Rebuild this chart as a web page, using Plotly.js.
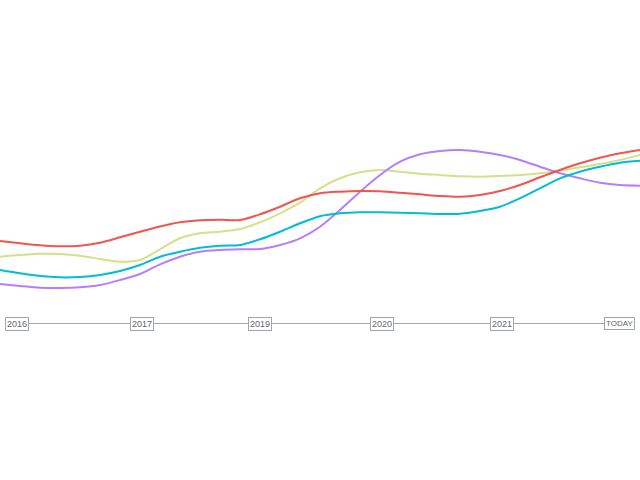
<!DOCTYPE html>
<html>
<head>
<meta charset="utf-8">
<script src="https://cdn.plot.ly/plotly-3.0.1.min.js"></script>
<style>html,body{margin:0;padding:0;background:#fff;}#chart{width:640px;height:480px;}</style>
</head>
<body>
<div id="chart"></div>
<script>
// timeline positions (index units) and labels
const timelineLabels = ["2016", "2017", "2019", "2020", "2021", "TODAY"];
const timelinePos = [0, 1.04, 2.02, 3.03, 4.03, 5];

// sample positions along the timeline
const xs = [-0.137, 0.029, 0.195, 0.361, 0.527, 0.693, 0.859, 1.025, 1.191, 1.357, 1.523,
            1.689, 1.855, 2.021, 2.187, 2.353, 2.519, 2.685, 2.851, 3.017, 3.183, 3.349,
            3.515, 3.681, 3.846, 4.012, 4.178, 4.344, 4.510, 4.676, 4.842, 5.008, 5.174];

// series values (height above timeline)
const redSeries    = [82.5, 80.2, 78.2, 77.2, 77.8, 80.8, 86.2, 91.8, 97, 101.2, 103.2,
                      103.8, 103.5, 109.2, 116.8, 125.2, 130.2, 131.8, 132.5, 132.2, 130.8, 129.2,
                      127.5, 126.8, 128.5, 132.5, 138.5, 146.2, 153.5, 160.2, 165.8, 170.2, 173.5];
const limeSeries   = [66.8, 68.5, 69.8, 69.5, 67.8, 64.5, 61.8, 63.5, 74.2, 85.2, 90.2,
                      91.8, 94.5, 101.2, 110.2, 120.8, 135.2, 145.2, 151.2, 153.5, 151.8, 149.8,
                      148.5, 147.2, 146.8, 147.5, 148.5, 150.2, 152.8, 156.2, 159.5, 163.5, 168.5];
const cyanSeries   = [53.5, 50.2, 47.5, 46.2, 46.5, 48.5, 52.5, 58.5, 66.8, 71.8, 75.8,
                      77.8, 78.5, 84.2, 91.8, 100.2, 107.3, 110.2, 111.2, 111.2, 110.8, 110.2,
                      109.5, 109.8, 112.5, 116.8, 125.2, 135.2, 145.2, 151.8, 156.8, 160.8, 162.8];
const purpleSeries = [39.5, 37.5, 35.8, 35.5, 36.2, 38.5, 43.5, 49.5, 59.2, 66.8, 71.8,
                      73.5, 74.2, 74.5, 78.5, 85.2, 96.8, 113.5, 131.8, 148.5, 161.8, 169.2,
                      172.5, 173.5, 171.8, 168.5, 163.5, 156.8, 150.2, 145.2, 140.8, 138.5, 137.8];

const colors = ["#F0564E", "#D4E08A", "#00BCD4", "#B47EFF"];
const seriesList = [limeSeries, purpleSeries, cyanSeries, redSeries];
const seriesColors = [colors[1], colors[3], colors[2], colors[0]];

const traces = seriesList.map((ys, i) => ({
  x: xs, y: ys, type: "scatter", mode: "lines",
  line: {shape: "spline", smoothing: 0.8, color: seriesColors[i], width: 2},
  hoverinfo: "none"
}));

// timeline baseline
traces.unshift({
  x: [timelinePos[0], timelinePos[timelinePos.length - 1]], y: [0, 0],
  type: "scatter", mode: "lines", line: {color: "#A3A8B3", width: 1.2}, hoverinfo: "none"
});

const annotations = timelineLabels.map((t, i) => ({
  x: timelinePos[i], y: 0, xref: "x", yref: "y", text: t, showarrow: false,
  bgcolor: "#ffffff", bordercolor: "#A0A5B0", borderwidth: 1, borderpad: 1,
  font: {family: "Liberation Sans, Arial, sans-serif", size: t === "TODAY" ? 8 : 9, color: "#5F6673"}
}));

const layout = {
  width: 640, height: 480,
  margin: {l: 0, r: 0, t: 0, b: 0},
  paper_bgcolor: "#ffffff", plot_bgcolor: "#ffffff",
  showlegend: false,
  xaxis: {visible: false, range: [-0.137, 5.174], fixedrange: true},
  yaxis: {visible: false, range: [-156.5, 323.5], fixedrange: true},
  annotations: annotations
};

Plotly.newPlot("chart", traces, layout, {displayModeBar: false, staticPlot: true});
</script>
</body>
</html>
